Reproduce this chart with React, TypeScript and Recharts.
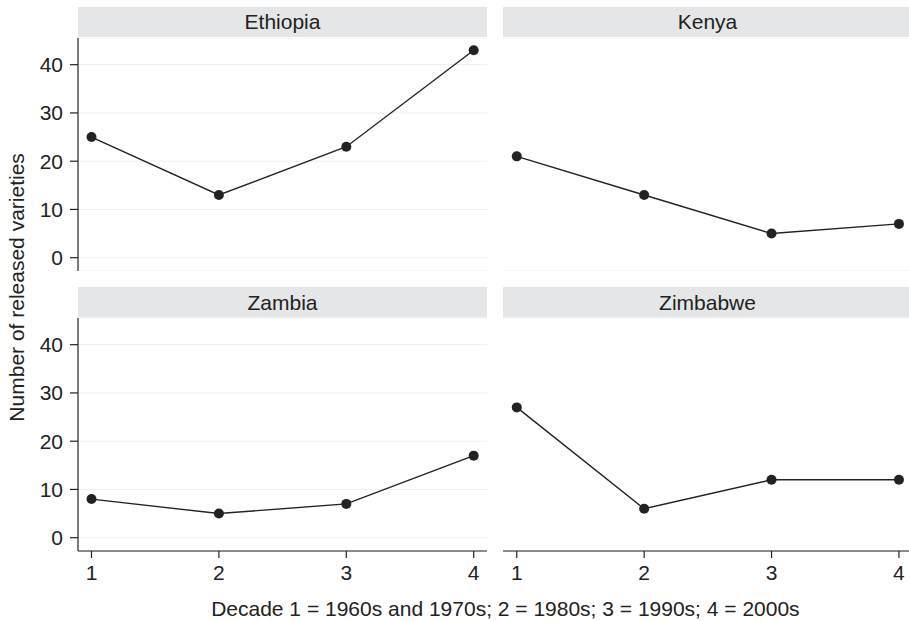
import React from "react";
import { LineChart, Line, XAxis, YAxis, CartesianGrid } from "recharts";

const decades = [1, 2, 3, 4];
const ethiopia = [25, 13, 23, 43];
const kenya = [21, 13, 5, 7];
const zambia = [8, 5, 7, 17];
const zimbabwe = [27, 6, 12, 12];
const yTicks = [0, 10, 20, 30, 40];
const panelTitles = ["Ethiopia", "Kenya", "Zambia", "Zimbabwe"];
const xTitle = "Decade 1 = 1960s and 1970s; 2 = 1980s; 3 = 1990s; 4 = 2000s";
const yTitle = "Number of released varieties";

const FONT = "'Liberation Sans', Arial, Helvetica, sans-serif";
const INK = "#222222";
const HEADER_BG = "#e5e6e8";
const GRID = "#efefef";

const Y_DOMAIN: [number, number] = [-2.76, 45.53];
const X_DOMAIN_LEFT: [number, number] = [0.894, 4.1044];
const X_DOMAIN_RIGHT: [number, number] = [0.892, 4.079];

const toRows = (vals: number[]) => decades.map((d, i) => ({ decade: d, value: vals[i] }));

type PanelProps = {
  values: number[];
  left: number;
  top: number;
  width: number;
  showY: boolean;
  showX: boolean;
  xDomain: [number, number];
};

const PLOT_H = 233;

function Panel({ values, left, top, width, showY, showX, xDomain }: PanelProps) {
  const height = PLOT_H + (showX ? 40 : 0);
  return (
    <div style={{ position: "absolute", left, top, width, height }}>
      <LineChart
        width={width}
        height={height}
        data={toRows(values)}
        margin={{ top: 0, right: 0, bottom: 0, left: 0 }}
      >
        <CartesianGrid vertical={false} stroke={GRID} strokeWidth={1} />
        <XAxis
          dataKey="decade"
          type="number"
          domain={xDomain}
          ticks={decades}
          allowDataOverflow
          hide={!showX}
          height={40}
          axisLine={{ stroke: INK, strokeWidth: 1.2 }}
          tickLine={{ stroke: INK, strokeWidth: 1.2 }}
          tickSize={7}
          tickMargin={7}
          tick={{ fontSize: 21, fill: INK, fontFamily: FONT }}
        />
        <YAxis
          type="number"
          domain={Y_DOMAIN}
          ticks={yTicks}
          allowDataOverflow
          width={showY ? 78 : 0}
          axisLine={showY ? { stroke: INK, strokeWidth: 1.2 } : false}
          tickLine={showY ? { stroke: INK, strokeWidth: 1.2 } : false}
          tick={showY ? { fontSize: 21, fill: INK, fontFamily: FONT } : false}
          tickSize={8}
          tickMargin={7}
        />
        <Line
          type="linear"
          dataKey="value"
          stroke={INK}
          strokeWidth={1.4}
          dot={{ r: 5, fill: INK, stroke: INK, strokeWidth: 0 }}
          activeDot={false}
          isAnimationActive={false}
        />
      </LineChart>
    </div>
  );
}

export default function App() {
  return (
    <div
      style={{
        position: "absolute",
        left: 0,
        top: 0,
        width: 909,
        height: 621,
        overflow: "hidden",
        background: "#ffffff",
        fontFamily: FONT,
      }}
    >
      <svg width={909} height={621} style={{ position: "absolute", left: 0, top: 0 }}>
        <rect x={78} y={7} width={409} height={30} fill={HEADER_BG} />
        <rect x={503} y={7} width={409} height={30} fill={HEADER_BG} />
        <rect x={78} y={287} width={409} height={30.5} fill={HEADER_BG} />
        <rect x={503} y={287} width={409} height={30.5} fill={HEADER_BG} />
        <text x={282.5} y={29} textAnchor="middle" fontSize={21} fill={INK} fontFamily={FONT}>
          {panelTitles[0]}
        </text>
        <text x={707.5} y={29} textAnchor="middle" fontSize={21} fill={INK} fontFamily={FONT}>
          {panelTitles[1]}
        </text>
        <text x={282.5} y={309.5} textAnchor="middle" fontSize={21} fill={INK} fontFamily={FONT}>
          {panelTitles[2]}
        </text>
        <text x={707.5} y={309.5} textAnchor="middle" fontSize={21} fill={INK} fontFamily={FONT}>
          {panelTitles[3]}
        </text>
        <text
          transform="translate(24.3, 287.4) rotate(-90)"
          textAnchor="middle"
          fontSize={21}
          fill={INK}
          fontFamily={FONT}
        >
          {yTitle}
        </text>
        <text x={505.4} y={616} textAnchor="middle" fontSize={21} fill={INK} fontFamily={FONT}>
          {xTitle}
        </text>
      </svg>
      <Panel values={ethiopia} left={0} top={38} width={487} showY showX={false} xDomain={X_DOMAIN_LEFT} />
      <Panel values={kenya} left={503} top={38} width={406} showY={false} showX={false} xDomain={X_DOMAIN_RIGHT} />
      <Panel values={zambia} left={0} top={318} width={487} showY showX xDomain={X_DOMAIN_LEFT} />
      <Panel values={zimbabwe} left={503} top={318} width={406} showY={false} showX xDomain={X_DOMAIN_RIGHT} />
    </div>
  );
}
